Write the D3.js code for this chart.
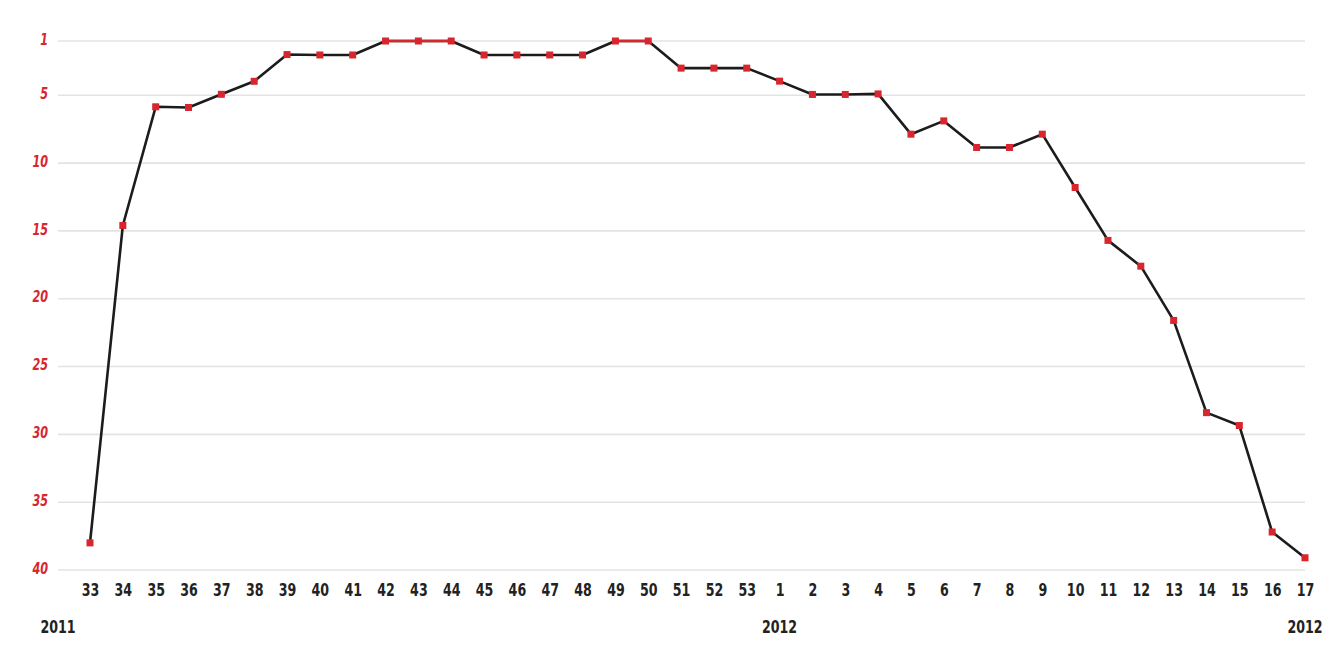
<!DOCTYPE html>
<html>
<head>
<meta charset="utf-8">
<script src="https://cdn.jsdelivr.net/npm/d3@7"></script>
<style>
  html, body { margin: 0; padding: 0; background: #fff; }
  svg { display: block; }
  .lbl { font-family: "DejaVu Sans Condensed", "DejaVu Sans", sans-serif; font-weight: bold; }
</style>
</head>
<body>
<svg id="chart" width="1333" height="667"></svg>
<script>
// ---- data ----
const weeks = ["33","34","35","36","37","38","39","40","41","42","43","44","45","46","47","48","49","50","51","52","53",
               "1","2","3","4","5","6","7","8","9","10","11","12","13","14","15","16","17"];
const ranks = [38.0, 14.6, 5.85, 5.9, 4.93, 3.97, 2.0, 2.03, 2.03, 1, 1, 1, 2.03, 2.03, 2.03, 2.03, 1, 1, 3.0, 3.0, 3.0,
               3.96, 4.94, 4.94, 4.9, 7.87, 6.89, 8.85, 8.85, 7.87, 11.8, 15.7, 17.6, 21.6, 28.4, 29.35, 37.2, 39.1];
const yTicks = [1, 5, 10, 15, 20, 25, 30, 35, 40];
const yearLabels = ["2011", "2012", "2012"];
const yearWeekIndex = [null, 21, 37]; // 2011 sits at the left edge

// ---- layout ----
const svg = d3.select("#chart");
const mLeft = 58, mRight = 1305, mTop = 41, mBottom = 570;
const red = "#d7262e", dark = "#1c1c1c", grid = "#e3e3e3";
const squeeze = "scale(0.78,1)";

const x = d3.scalePoint().domain(d3.range(weeks.length)).range([90, mRight]);
const y = d3.scaleLinear().domain([1, 40]).range([mTop, mBottom]);

// gridlines
svg.append("g").selectAll("line").data(yTicks).join("line")
  .attr("x1", mLeft).attr("x2", mRight)
  .attr("y1", d => y(d)).attr("y2", d => y(d))
  .attr("stroke", grid).attr("stroke-width", 1.6);

// y axis labels
const yAxis = d3.axisLeft(y).tickValues(yTicks).tickSize(0).tickPadding(0);
const gy = svg.append("g").attr("transform", `translate(48,0)`).call(yAxis);
gy.select(".domain").remove();
gy.selectAll("text")
  .attr("class", "lbl")
  .attr("fill", red)
  .attr("font-style", "italic")
  .attr("font-size", 16)
  .attr("dy", "0.2em")
  .attr("transform", squeeze);

// x axis labels
const xAxis = d3.axisBottom(x).tickSize(0).tickPadding(0).tickFormat(i => weeks[i]);
const gx = svg.append("g").attr("transform", `translate(0,583)`).call(xAxis);
gx.select(".domain").remove();
gx.selectAll("text")
  .attr("class", "lbl")
  .attr("fill", "#222")
  .attr("font-size", 18)
  .attr("dy", "0.72em")
  .attr("transform", squeeze);

// year labels
svg.append("g").selectAll("text").data(yearLabels).join("text")
  .attr("class", "lbl")
  .attr("transform", (d, i) => `translate(${yearWeekIndex[i] === null ? mLeft : x(yearWeekIndex[i])},633) ${squeeze}`)
  .attr("text-anchor", "middle")
  .attr("font-size", 18)
  .attr("fill", "#222")
  .text(d => d);

// line
const pts = ranks.map((r, i) => [x(i), y(r)]);
const line = d3.line();
svg.append("path")
  .attr("d", line(pts))
  .attr("fill", "none")
  .attr("stroke", dark)
  .attr("stroke-width", 2.6)
  .attr("stroke-linejoin", "round");

// red segments where rank stays at 1
const topSegs = d3.range(ranks.length - 1).filter(i => ranks[i] === 1 && ranks[i + 1] === 1);
svg.append("g").selectAll("line").data(topSegs).join("line")
  .attr("x1", i => x(i)).attr("x2", i => x(i + 1))
  .attr("y1", i => y(ranks[i])).attr("y2", i => y(ranks[i + 1]))
  .attr("stroke", red).attr("stroke-width", 2.6);

// markers
const s = 7;
svg.append("g").selectAll("rect").data(ranks).join("rect")
  .attr("x", (d, i) => x(i) - s / 2)
  .attr("y", d => y(d) - s / 2)
  .attr("width", s).attr("height", s)
  .attr("fill", red);
</script>
</body>
</html>
